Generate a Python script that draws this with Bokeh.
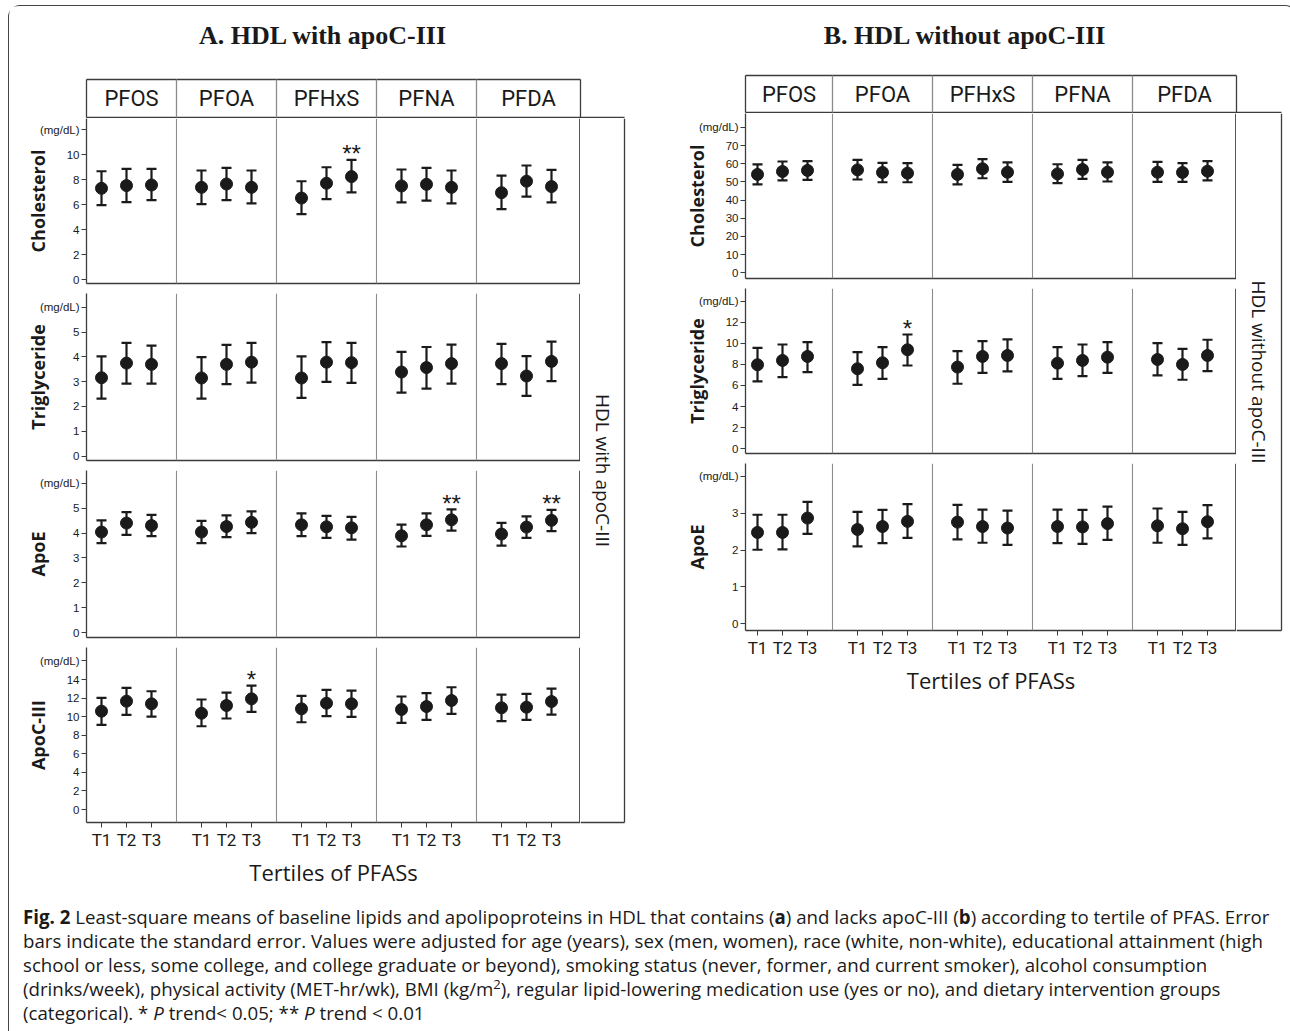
import math
from bokeh.plotting import figure
from bokeh.layouts import column, row
from bokeh.models import Range1d, FixedTicker, Span, Div
from bokeh.embed import file_html
from bokeh.resources import INLINE
from bokeh.core.properties import value

# ---------------- data ----------------
compounds = ["PFOS", "PFOA", "PFHxS", "PFNA", "PFDA"]
tertiles = ["T1", "T2", "T3"]

# Panel A: HDL with apoC-III  (order: PFOS T1-T3, PFOA T1-T3, ...)
a_chol_mean = [7.31, 7.53, 7.58, 7.39, 7.66, 7.39, 6.53, 7.72, 8.25, 7.50, 7.63, 7.39, 6.96, 7.88, 7.45]
a_chol_lo = [5.97, 6.21, 6.37, 6.05, 6.37, 6.10, 5.24, 6.45, 6.99, 6.18, 6.32, 6.10, 5.65, 6.64, 6.18]
a_chol_hi = [8.68, 8.87, 8.87, 8.74, 8.95, 8.74, 7.88, 9.00, 9.60, 8.82, 8.95, 8.74, 8.33, 9.14, 8.79]
a_chol_sig = ["", "", "", "", "", "", "", "", "**", "", "", "", "", "", ""]

a_tg_mean = [3.16, 3.75, 3.70, 3.15, 3.70, 3.79, 3.15, 3.79, 3.77, 3.39, 3.57, 3.73, 3.73, 3.23, 3.82]
a_tg_lo = [2.32, 2.92, 2.92, 2.32, 2.90, 2.96, 2.35, 2.99, 2.95, 2.56, 2.72, 2.92, 2.90, 2.43, 3.02]
a_tg_hi = [4.02, 4.57, 4.46, 3.99, 4.49, 4.57, 4.02, 4.60, 4.57, 4.20, 4.40, 4.50, 4.53, 4.03, 4.62]
a_tg_sig = [""] * 15

a_apoe_mean = [4.04, 4.40, 4.30, 4.04, 4.26, 4.43, 4.33, 4.25, 4.21, 3.89, 4.33, 4.53, 3.96, 4.24, 4.51]
a_apoe_lo = [3.60, 3.93, 3.88, 3.60, 3.84, 4.00, 3.88, 3.81, 3.74, 3.46, 3.89, 4.10, 3.50, 3.81, 4.08]
a_apoe_hi = [4.51, 4.84, 4.73, 4.49, 4.71, 4.87, 4.79, 4.69, 4.65, 4.34, 4.79, 4.95, 4.41, 4.67, 4.93]
a_apoe_sig = ["", "", "", "", "", "", "", "", "", "", "", "**", "", "", "**"]

a_apoc3_mean = [10.59, 11.67, 11.38, 10.37, 11.20, 11.92, 10.84, 11.45, 11.38, 10.77, 11.09, 11.74, 10.95, 11.02, 11.63]
a_apoc3_lo = [9.12, 10.19, 10.01, 8.97, 9.80, 10.52, 9.40, 10.05, 9.98, 9.33, 9.66, 10.30, 9.51, 9.66, 10.23]
a_apoc3_hi = [12.02, 13.10, 12.74, 11.85, 12.60, 13.35, 12.24, 12.89, 12.81, 12.17, 12.53, 13.17, 12.38, 12.46, 13.03]
a_apoc3_sig = ["", "", "", "", "", "*", "", "", "", "", "", "", "", "", ""]

# Panel B: HDL without apoC-III
b_chol_mean = [54.1, 55.7, 56.3, 56.6, 55.2, 54.8, 54.1, 57.2, 55.3, 54.4, 56.8, 55.3, 55.3, 55.2, 55.9]
b_chol_lo = [48.6, 50.8, 51.1, 51.3, 49.8, 49.8, 48.6, 52.0, 50.0, 49.3, 51.7, 50.2, 50.0, 50.0, 50.8]
b_chol_hi = [59.6, 61.2, 61.4, 62.1, 60.5, 60.3, 59.4, 62.5, 60.7, 59.7, 62.1, 60.7, 61.0, 60.3, 61.4]
b_chol_sig = [""] * 15

b_tg_mean = [7.96, 8.37, 8.75, 7.58, 8.15, 9.38, 7.74, 8.75, 8.84, 8.11, 8.37, 8.68, 8.46, 7.99, 8.84]
b_tg_lo = [6.38, 6.79, 7.26, 6.06, 6.63, 7.89, 6.16, 7.20, 7.33, 6.63, 6.88, 7.20, 6.95, 6.54, 7.36]
b_tg_hi = [9.57, 9.88, 10.10, 9.16, 9.63, 10.83, 9.25, 10.20, 10.36, 9.63, 9.88, 10.10, 10.01, 9.47, 10.33]
b_tg_sig = ["", "", "", "", "", "*", "", "", "", "", "", "", "", "", ""]

b_apoe_mean = [2.48, 2.48, 2.87, 2.56, 2.64, 2.78, 2.76, 2.64, 2.60, 2.64, 2.63, 2.72, 2.66, 2.58, 2.77]
b_apoe_lo = [2.01, 2.02, 2.44, 2.10, 2.19, 2.33, 2.29, 2.20, 2.14, 2.19, 2.17, 2.28, 2.20, 2.14, 2.32]
b_apoe_hi = [2.96, 2.96, 3.31, 3.04, 3.09, 3.25, 3.23, 3.10, 3.07, 3.10, 3.09, 3.18, 3.13, 3.04, 3.22]
b_apoe_sig = [""] * 15

# axis ticks (last entry is the unit label position)
a_chol_ticks = [0, 2, 4, 6, 8, 10, 12]
a_tg_ticks = [0, 1, 2, 3, 4, 5, 6]
a_apoe_ticks = [0, 1, 2, 3, 4, 5, 6]
a_apoc3_ticks = [0, 2, 4, 6, 8, 10, 12, 14, 16]
b_chol_ticks = [0, 10, 20, 30, 40, 50, 60, 70, 80]
b_tg_ticks = [0, 2, 4, 6, 8, 10, 12, 14]
b_apoe_ticks = [0, 1, 2, 3, 4]
unit_label = "(mg/dL)"

title_a = "A. HDL with  apoC-III"
title_b = "B. HDL without  apoC-III"
strip_a = "HDL with apoC-III"
strip_b = "HDL without apoC-III"
x_title = "Tertiles of PFASs"

# ---------------- style ----------------
INK = "#1a1a1a"
AXC = "#3c3c3c"
DIVC = "#8c8c8c"
F_NUM = "Liberation Sans"
F_CAT = "Roboto"
F_LAB = "Open Sans"
F_TITLE = "Liberation Serif"
PX = 25.0  # pixels per x unit

xs = [4 * g + t + 1 for g in range(len(compounds)) for t in range(len(tertiles))]
x_tick_labels = {x: tertiles[i % 3] for i, x in enumerate(xs)}
dividers = [4.0 * (g + 1) for g in range(len(compounds) - 1)]


def blank(p):
    p.xgrid.visible = False
    p.ygrid.visible = False
    p.background_fill_color = "white"
    p.border_fill_color = "white"
    p.outline_line_color = None


def make_row(xr, y0, y1, ticks, mean, lo, hi, sig, ylabel, L, FW, FH, BOT, with_x):
    p = figure(width=L + FW, height=FH + BOT, x_range=xr, y_range=Range1d(y0, y1),
               toolbar_location=None, output_backend="svg",
               min_border_left=L, min_border_right=0, min_border_top=0, min_border_bottom=BOT)
    blank(p)
    ya = p.yaxis[0]
    ya.ticker = FixedTicker(ticks=ticks)
    ya.major_label_overrides = {ticks[-1]: unit_label}
    ya.major_label_text_font = F_NUM
    ya.major_label_text_font_size = "11.5px"
    ya.major_label_text_color = INK
    ya.major_label_standoff = 2
    ya.major_tick_out = 5
    ya.major_tick_in = 0
    ya.minor_tick_line_color = None
    ya.major_tick_line_color = AXC
    ya.axis_line_color = AXC
    ya.axis_line_width = 1.3
    ya.axis_label = ylabel
    ya.axis_label_text_font = F_LAB
    ya.axis_label_text_font_style = "bold"
    ya.axis_label_text_font_size = "18px"
    ya.axis_label_text_color = INK
    ya.axis_label_standoff = -13

    xa = p.xaxis[0]
    xa.axis_line_color = AXC
    xa.axis_line_width = 1.3
    xa.minor_tick_line_color = None
    if with_x:
        xa.ticker = FixedTicker(ticks=xs)
        xa.major_label_overrides = x_tick_labels
        xa.major_label_text_font = F_CAT
        xa.major_label_text_font_size = "17px"
        xa.major_label_text_color = INK
        xa.major_label_standoff = 2
        xa.major_tick_out = 5
        xa.major_tick_in = 0
        xa.major_tick_line_color = AXC
        xa.axis_label = x_title
        xa.axis_label_text_font = F_LAB
        xa.axis_label_text_font_style = "normal"
        xa.axis_label_text_font_size = "22px"
        xa.axis_label_text_color = INK
        xa.axis_label_standoff = 4
    else:
        xa.ticker = FixedTicker(ticks=[])
        xa.major_label_text_font_size = "0px"
        xa.major_label_standoff = 0
        xa.major_tick_out = 0
        xa.major_tick_in = 0

    for d in dividers:
        p.add_layout(Span(location=d, dimension="height", line_color=DIVC, line_width=1.1))
    p.add_layout(Span(location=xr.end - 0.7 / PX, dimension="height", line_color=AXC, line_width=1.3))

    p.segment(x0=xs, y0=lo, x1=xs, y1=hi, line_color=INK, line_width=2.2)
    p.scatter(x=xs, y=lo, marker="dash", size=10, line_color=INK, line_width=2.2)
    p.scatter(x=xs, y=hi, marker="dash", size=10, line_color=INK, line_width=2.2)
    p.scatter(x=xs, y=mean, marker="circle", size=12, fill_color=INK, line_color=INK)
    sx = [x for x, s in zip(xs, sig) if s]
    sy = [h for h, s in zip(hi, sig) if s]
    st = [s for s in sig if s]
    if st:
        p.text(x=sx, y=sy, text=st, text_align="center", text_baseline="alphabetic",
               y_offset=-6, text_font=value(F_NUM), text_font_size="24px", text_color=INK)
    return p


def make_header(BW, H, box_h, L, FW, PX0, strip_w, title, title_x, title_y):
    xr = Range1d((0 - PX0) / PX, (BW - PX0) / PX)
    x0 = (L - PX0) / PX
    x1 = (L + FW - PX0) / PX
    xs_end = x1 + strip_w / PX
    p = figure(width=BW, height=H, x_range=xr, y_range=Range1d(-1, H - 1),
               toolbar_location=None, output_backend="svg", min_border=0,
               x_axis_location=None, y_axis_location=None)
    blank(p)
    sx0 = [x0, x0, x0, x1] + dividers
    sy0 = [0, box_h, 0, 0] + [0] * len(dividers)
    sx1 = [xs_end, x1, x0, x1] + dividers
    sy1 = [0, box_h, box_h, box_h] + [box_h] * len(dividers)
    cols = [AXC] * 4 + [DIVC] * len(dividers)
    p.segment(x0=sx0, y0=sy0, x1=sx1, y1=sy1, line_color=cols, line_width=1.3)
    edges = [x0] + dividers + [x1]
    mids = [(edges[i] + edges[i + 1]) / 2 for i in range(len(compounds))]
    p.text(x=mids, y=[box_h / 2] * len(mids), text=compounds, text_align="center",
           text_baseline="middle", text_font=value(F_CAT), text_font_size="22px", text_color=INK)
    p.text(x=[title_x], y=[title_y], text=[title], text_align="center", text_baseline="alphabetic",
           text_font=value(F_TITLE), text_font_style="bold", text_font_size="26px", text_color=INK)
    return p, Range1d(x0, x1)


def make_strip(W, H, box_w, box_bottom, text):
    p = figure(width=W, height=H, x_range=Range1d(0, W), y_range=Range1d(0, H),
               toolbar_location=None, output_backend="svg", min_border=0,
               x_axis_location=None, y_axis_location=None)
    blank(p)
    p.segment(x0=[box_w, 0], y0=[box_bottom, box_bottom], x1=[box_w, box_w], y1=[H, box_bottom],
              line_color=AXC, line_width=1.3)
    p.text(x=[box_w / 2], y=[(box_bottom + H) / 2], text=[text], angle=-math.pi / 2,
           text_align="center", text_baseline="middle", text_font=value(F_LAB),
           text_font_size="19px", text_color=INK)
    return p


# page geometry: layout content starts at x=9, y=6
# ---------------- panel A ----------------
A_BW, A_L, A_FW, A_PX0 = 631, 77, 494, 67
A_HEAD = 112
A_STRIP_BOX = 44
head_a, xr_a = make_header(A_BW, A_HEAD, 38, A_L, A_FW, A_PX0, A_STRIP_BOX,
                           title_a, (326 - 9 - A_PX0) / PX, 82.5)
ra1 = make_row(xr_a, -0.32, 12.91, a_chol_ticks, a_chol_mean, a_chol_lo, a_chol_hi, a_chol_sig,
               "Cholesterol", A_L, A_FW, 165, 10, False)
ra2 = make_row(xr_a, -0.18, 6.56, a_tg_ticks, a_tg_mean, a_tg_lo, a_tg_hi, a_tg_sig,
               "Triglyceride", A_L, A_FW, 167, 10, False)
ra3 = make_row(xr_a, -0.19, 6.51, a_apoe_ticks, a_apoe_mean, a_apoe_lo, a_apoe_hi, a_apoe_sig,
               "ApoE", A_L, A_FW, 167, 10, False)
ra4 = make_row(xr_a, -1.40, 17.45, a_apoc3_ticks, a_apoc3_mean, a_apoc3_lo, a_apoc3_hi, a_apoc3_sig,
               "ApoC-III", A_L, A_FW, 175, 70, True)
a_rows_h = 175 + 177 + 177 + 245
strip_fig_a = make_strip(A_BW - A_L - A_FW, a_rows_h, A_STRIP_BOX, 70, strip_a)
panel_a = column(head_a, row(column(ra1, ra2, ra3, ra4), strip_fig_a))

# ---------------- panel B ----------------
B_BW, B_L, B_FW, B_PX0 = 646, 105, 491, 92
B_HEAD = 107
B_STRIP_BOX = 45
head_b, xr_b = make_header(B_BW, B_HEAD, 37, B_L, B_FW, B_PX0, B_STRIP_BOX,
                           title_b, (968 - 640 - B_PX0) / PX, 77.5)
rb1 = make_row(xr_b, -3.13, 87.6, b_chol_ticks, b_chol_mean, b_chol_lo, b_chol_hi, b_chol_sig,
               "Cholesterol", B_L, B_FW, 165, 10, False)
rb2 = make_row(xr_b, -0.45, 15.19, b_tg_ticks, b_tg_mean, b_tg_lo, b_tg_hi, b_tg_sig,
               "Triglyceride", B_L, B_FW, 165, 10, False)
rb3 = make_row(xr_b, -0.18, 4.35, b_apoe_ticks, b_apoe_mean, b_apoe_lo, b_apoe_hi, b_apoe_sig,
               "ApoE", B_L, B_FW, 167, 70, True)
b_rows_h = 175 + 175 + 237
strip_fig_b = make_strip(B_BW - B_L - B_FW, b_rows_h, B_STRIP_BOX, 70, strip_b)
panel_b = column(head_b, row(column(rb1, rb2, rb3), strip_fig_b))

# ---------------- caption ----------------
cap_lines = [
    "<b>Fig. 2</b> Least-square means of baseline lipids and apolipoproteins in HDL that contains (<b>a</b>) and lacks apoC-III (<b>b</b>) according to tertile of PFAS. Error",
    "bars indicate the standard error. Values were adjusted for age (years), sex (men, women), race (white, non-white), educational attainment (high",
    "school or less, some college, and college graduate or beyond), smoking status (never, former, and current smoker), alcohol consumption",
    "(drinks/week), physical activity (MET-hr/wk), BMI (kg/m<sup style='font-size:70%;line-height:0'>2</sup>), regular lipid-lowering medication use (yes or no), and dietary intervention groups",
    "(categorical). * <i>P</i> trend&lt; 0.05; ** <i>P</i> trend &lt; 0.01",
]
cap_html = ("<div style=\"font-family:'Open Sans';font-size:18.7px;line-height:24px;color:#1a1a1a;"
            "white-space:nowrap;padding:8px 0 0 9px;\">" + "<br>".join(cap_lines) + "</div>")
caption = Div(text=cap_html, width=A_BW + B_BW, height=136)

layout = column(row(panel_a, panel_b), caption,
                styles={"border": "1px solid #444", "border-bottom": "none",
                        "border-radius": "12px 12px 0 0", "background": "white",
                        "margin-left": "8px", "margin-top": "5px"})

open("out.html", "w").write(file_html(layout, INLINE))
